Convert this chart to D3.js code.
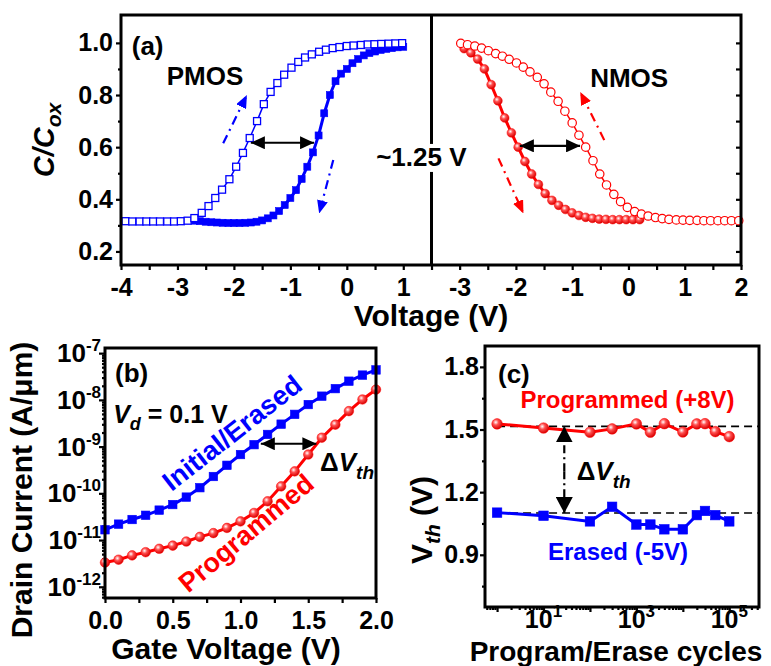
<!DOCTYPE html>
<html><head><meta charset="utf-8">
<script src="https://cdn.jsdelivr.net/npm/d3@7"></script>
<style>
body{margin:0;background:#fff}
svg text{font-family:Arial,"Liberation Sans",sans-serif;font-weight:bold;fill:#000}
</style></head><body><div id="chart"></div>
<script>
/* ---- (a) C-V hysteresis ---- */
const pmosOpenV = [-3.92,-3.80,-3.67,-3.55,-3.43,-3.31,-3.18,-3.06,-2.94,-2.82,-2.70,-2.57,-2.45,-2.33,-2.21,-2.08,-1.96,-1.84,-1.72,-1.59,-1.47,-1.35,-1.23,-1.11,-0.98,-0.86,-0.74,-0.62,-0.49,-0.37,-0.25,-0.13,0.00,0.12,0.25,0.37,0.49,0.61,0.74,0.86,0.98];
const pmosOpenC = [0.316,0.315,0.315,0.315,0.315,0.315,0.315,0.315,0.316,0.318,0.328,0.348,0.374,0.405,0.437,0.477,0.525,0.578,0.635,0.700,0.765,0.812,0.846,0.878,0.905,0.927,0.944,0.956,0.966,0.974,0.980,0.984,0.988,0.990,0.992,0.994,0.995,0.996,0.997,0.998,0.999];
const pmosFillV = [-2.7,-2.6,-2.5,-2.4,-2.3,-2.2,-2.1,-2.0,-1.9,-1.8,-1.7,-1.6,-1.5,-1.4,-1.3,-1.2,-1.1,-1.0,-0.9,-0.8,-0.7,-0.6,-0.5,-0.4,-0.3,-0.2,-0.1,0.0,0.1,0.2,0.3,0.4,0.5,0.6,0.7,0.8,0.9,1.0];
const pmosFillC = [0.318,0.316,0.314,0.312,0.311,0.310,0.309,0.309,0.309,0.310,0.311,0.314,0.319,0.327,0.338,0.355,0.378,0.405,0.435,0.478,0.525,0.580,0.645,0.730,0.800,0.853,0.882,0.900,0.922,0.938,0.952,0.961,0.967,0.973,0.977,0.980,0.983,0.985];
const nmosOpenV = [-2.98,-2.86,-2.73,-2.61,-2.49,-2.36,-2.24,-2.12,-1.99,-1.87,-1.75,-1.62,-1.50,-1.38,-1.25,-1.13,-1.00,-0.88,-0.76,-0.63,-0.51,-0.39,-0.26,-0.14,-0.02,0.11,0.23,0.35,0.48,0.60,0.72,0.85,0.97,1.09,1.22,1.34,1.46,1.59,1.71,1.83,1.96];
const nmosOpenC = [0.998,0.993,0.988,0.980,0.970,0.959,0.949,0.937,0.923,0.907,0.889,0.868,0.843,0.811,0.776,0.738,0.693,0.646,0.600,0.548,0.497,0.455,0.419,0.391,0.369,0.353,0.343,0.336,0.330,0.326,0.323,0.321,0.320,0.319,0.319,0.318,0.318,0.318,0.318,0.318,0.318];
const nmosFillV = [-2.92,-2.80,-2.68,-2.56,-2.44,-2.32,-2.20,-2.08,-1.96,-1.84,-1.72,-1.60,-1.48,-1.36,-1.24,-1.12,-1.00,-0.88,-0.76,-0.64,-0.52,-0.40,-0.28,-0.16,-0.04,0.08,0.20];
const nmosFillC = [0.978,0.962,0.938,0.900,0.840,0.778,0.712,0.655,0.600,0.545,0.497,0.457,0.422,0.396,0.377,0.361,0.348,0.338,0.331,0.327,0.324,0.323,0.322,0.322,0.322,0.322,0.322];

/* ---- (b) transfer curves ---- */
const gateV = [0.0,0.1,0.2,0.3,0.4,0.5,0.6,0.7,0.8,0.9,1.0,1.1,1.2,1.3,1.4,1.5,1.6,1.7,1.8,1.9,2.0];
const idErased = [1.66e-11,2.19e-11,2.75e-11,3.39e-11,4.37e-11,5.75e-11,8.3e-11,1.32e-10,2.29e-10,3.98e-10,6.76e-10,1.10e-9,1.82e-9,3.02e-9,4.9e-9,7.94e-9,1.20e-8,1.74e-8,2.51e-8,3.39e-8,4.37e-8];
const idProgrammed = [3.3e-12,3.8e-12,4.7e-12,5.5e-12,6.5e-12,7.6e-12,9.3e-12,1.17e-11,1.41e-11,1.82e-11,2.51e-11,3.8e-11,6.76e-11,1.41e-10,2.95e-10,6.76e-10,1.55e-9,2.95e-9,5.75e-9,1.02e-8,1.66e-8];

/* ---- (c) endurance ---- */
const cycles = [1,10,100,300,1000,2000,4000,10000,20000,30000,50000,100000];
const vthProgrammed = [1.527,1.507,1.487,1.503,1.527,1.487,1.528,1.488,1.527,1.528,1.490,1.466];
const vthErased = [1.102,1.087,1.060,1.130,1.045,1.045,1.022,1.022,1.090,1.110,1.090,1.060];
const refLines = [1.515, 1.10];

const BLUE = "#0000ff", RED = "#ff0000";
const W = 771, H = 666;
const svg = d3.select("#chart").append("svg").attr("width", W).attr("height", H);
const defs = svg.append("defs");

const grad = defs.append("radialGradient").attr("id", "ball").attr("cx", "38%").attr("cy", "35%").attr("r", "65%");
grad.append("stop").attr("offset", "0%").attr("stop-color", "#fff");
grad.append("stop").attr("offset", "40%").attr("stop-color", "#ff5050");
grad.append("stop").attr("offset", "100%").attr("stop-color", "#d80000");

function arrowMarker(id, color, len, wid) {
  defs.append("marker").attr("id", id).attr("markerUnits", "userSpaceOnUse")
    .attr("viewBox", `0 0 ${len} ${wid}`).attr("markerWidth", len).attr("markerHeight", wid)
    .attr("refX", len).attr("refY", wid / 2).attr("orient", "auto-start-reverse")
    .append("path").attr("d", `M0,0L${len},${wid / 2}L0,${wid}Z`).attr("fill", color);
}
arrowMarker("hBlack", "#000", 14, 13);
arrowMarker("hBlue", BLUE, 13, 11);
arrowMarker("hRed", RED, 13, 11);
arrowMarker("hBig", "#000", 16, 17);

/* helpers */
function richText(g, x, y, parts, opt = {}) {
  const t = g.append("text").attr("x", x).attr("y", y)
    .attr("text-anchor", opt.anchor || "start")
    .style("font-size", (opt.size || 24) + "px");
  if (opt.color) t.style("fill", opt.color);
  if (opt.rotate != null) t.attr("transform", `rotate(${opt.rotate},${x},${y})`);
  parts.forEach(p => {
    const s = t.append("tspan").text(p.t);
    if (p.italic) s.style("font-style", "italic");
    if (p.size) s.style("font-size", p.size + "px");
    if (p.dy) s.attr("dy", p.dy);
    if (opt.color) s.style("fill", opt.color);
  });
  return t;
}
function styleAxis(sel, size) {
  sel.select(".domain").remove();
  sel.selectAll("line").attr("stroke", "#000").attr("stroke-width", 2.2);
  sel.selectAll("text").style("font-size", (size || 25) + "px");
}
function squares(g, xs, ys, x, y, s, filled, color) {
  g.append("g").selectAll("rect").data(d3.zip(xs, ys)).join("rect")
    .attr("x", d => x(d[0]) - s / 2).attr("y", d => y(d[1]) - s / 2)
    .attr("width", s).attr("height", s)
    .attr("fill", filled ? color : "#fff").attr("stroke", color)
    .attr("stroke-width", filled ? 0.6 : 1.3);
}
function circles(g, xs, ys, x, y, r, filled, color) {
  g.append("g").selectAll("circle").data(d3.zip(xs, ys)).join("circle")
    .attr("cx", d => x(d[0])).attr("cy", d => y(d[1])).attr("r", r)
    .attr("fill", filled ? "url(#ball)" : "#fff").attr("stroke", color)
    .attr("stroke-width", filled ? 0.5 : 1.2);
}
function path(g, xs, ys, x, y, color, w) {
  g.append("path").datum(d3.zip(xs, ys))
    .attr("d", d3.line().x(d => x(d[0])).y(d => y(d[1])))
    .attr("fill", "none").attr("stroke", color).attr("stroke-width", w);
}
function arrow(g, x1, y1, x2, y2, color, marker, dash, both) {
  const l = g.append("line").attr("x1", x1).attr("y1", y1).attr("x2", x2).attr("y2", y2)
    .attr("stroke", color).attr("stroke-width", 2.2).attr("marker-end", `url(#${marker})`);
  if (both) l.attr("marker-start", `url(#${marker})`);
  if (dash) l.attr("stroke-dasharray", dash);
}

/* ══════════ (a) ══════════ */
const A = { l: 121, r: 741, t: 15, b: 265, mid: 431.5 };
const xa1 = d3.scaleLinear().domain([-4, 1.5]).range([A.l, A.mid]);
const xa2 = d3.scaleLinear().domain([-3.5, 2]).range([A.mid, A.r]);
const ya = d3.scaleLinear().domain([0.148, 1.107]).range([A.b, A.t]);
const gA = svg.append("g");

gA.append("g").attr("transform", `translate(${A.l},0)`)
  .call(d3.axisLeft(ya).tickValues([0.2, 0.4, 0.6, 0.8, 1.0]).tickSize(5).tickPadding(3).tickFormat(d3.format(".1f")))
  .call(styleAxis);
gA.append("g").attr("transform", `translate(${A.l},0)`)
  .call(d3.axisLeft(ya).tickValues([0.3, 0.5, 0.7, 0.9]).tickSize(3).tickFormat(""))
  .call(styleAxis);
gA.append("g").attr("transform", `translate(${A.r},0)`)
  .call(d3.axisRight(ya).tickValues([0.2, 0.3, 0.4, 0.5, 0.6, 0.7, 0.8, 0.9, 1.0]).tickSize(-5).tickFormat(""))
  .call(styleAxis);
gA.append("g").attr("transform", `translate(0,${A.b})`)
  .call(d3.axisBottom(xa1).tickValues(d3.range(-4, 1.51, 0.5)).tickSize(5).tickPadding(8)
    .tickFormat(d => Number.isInteger(d) ? String(d) : ""))
  .call(styleAxis);
gA.append("g").attr("transform", `translate(0,${A.b})`)
  .call(d3.axisBottom(xa2).tickValues(d3.range(-3, 2.01, 0.5)).tickSize(5).tickPadding(8)
    .tickFormat(d => Number.isInteger(d) ? String(d) : ""))
  .call(styleAxis);

// curves
path(gA, pmosFillV, pmosFillC, xa1, ya, BLUE, 3);
squares(gA, pmosFillV, pmosFillC, xa1, ya, 7, true, BLUE);
path(gA, pmosOpenV, pmosOpenC, xa1, ya, BLUE, 1.5);
squares(gA, pmosOpenV, pmosOpenC, xa1, ya, 7, false, BLUE);
path(gA, nmosFillV, nmosFillC, xa2, ya, RED, 3);
circles(gA, nmosFillV, nmosFillC, xa2, ya, 4.4, true, RED);
path(gA, nmosOpenV, nmosOpenC, xa2, ya, RED, 1.5);
circles(gA, nmosOpenV, nmosOpenC, xa2, ya, 4.2, false, RED);

// frame + divider
gA.append("rect").attr("x", A.l).attr("y", A.t).attr("width", A.r - A.l).attr("height", A.b - A.t)
  .attr("fill", "none").attr("stroke", "#000").attr("stroke-width", 3);
gA.append("line").attr("x1", xa1(1.5)).attr("x2", xa1(1.5)).attr("y1", A.t).attr("y2", A.b)
  .attr("stroke", "#000").attr("stroke-width", 3);

// annotations
arrow(gA, xa1(-1.70), ya(0.617), xa1(-0.58), ya(0.617), "#000", "hBlack", null, true);
arrow(gA, xa2(-1.93), ya(0.605), xa2(-0.86), ya(0.605), "#000", "hBlack", null, true);
arrow(gA, xa1(-2.19), ya(0.615), xa1(-1.77), ya(0.80), BLUE, "hBlue", "9,5,2,5");
arrow(gA, xa1(-0.24), ya(0.551), xa1(-0.49), ya(0.346), BLUE, "hBlue", "9,5,2,5");
arrow(gA, xa2(-0.43), ya(0.627), xa2(-0.857), ya(0.812), RED, "hRed", "9,5,2,5");
arrow(gA, xa2(-2.31), ya(0.557), xa2(-1.866), ya(0.346), RED, "hRed", "9,5,2,5");

richText(gA, xa1(-3.81), ya(0.955), [{ t: "(a)" }], { size: 26 });
richText(gA, xa1(-3.19), ya(0.838), [{ t: "PMOS" }], { size: 26 });
richText(gA, xa2(-0.68), ya(0.832), [{ t: "NMOS" }], { size: 26 });
const lbl125 = richText(gA, xa1(1.32), ya(0.528), [{ t: "~1.25 V" }], { size: 26, anchor: "middle" });
const bb = lbl125.node().getBBox();
gA.insert("rect", () => lbl125.node()).attr("x", bb.x - 2).attr("y", bb.y + 2).attr("width", bb.width + 4)
  .attr("height", bb.height - 2).attr("fill", "#fff");

richText(gA, (A.l + A.r) / 2, 326, [{ t: "Voltage (V)" }], { size: 30, anchor: "middle" });
richText(gA, 54, 140, [{ t: "C/C", italic: true }, { t: "ox", italic: true, size: 21, dy: 7 }],
  { size: 29, anchor: "middle", rotate: -90 });

/* ══════════ (b) ══════════ */
const B = { l: 105, r: 376, t: 348, b: 598 };
const xb = d3.scaleLinear().domain([0, 2]).range([B.l, B.r]);
const yb = d3.scaleLog().domain([Math.pow(10, -12.24), Math.pow(10, -6.89)]).range([B.b, B.t]);
const gB = svg.append("g");

const decadesB = [1e-12, 1e-11, 1e-10, 1e-9, 1e-8, 1e-7];
const minorB = [];
[-13, -12, -11, -10, -9, -8, -7].forEach(k => d3.range(2, 10).forEach(m => {
  const v = m * Math.pow(10, k);
  if (v > yb.domain()[0] && v < yb.domain()[1]) minorB.push(v);
}));
gB.append("g").attr("transform", `translate(${B.l},0)`)
  .call(d3.axisLeft(yb).tickValues(decadesB).tickSize(6).tickFormat("")).call(styleAxis);
gB.append("g").attr("transform", `translate(${B.l},0)`)
  .call(d3.axisLeft(yb).tickValues(minorB).tickSize(3).tickFormat("")).call(styleAxis);
decadesB.forEach(v => {
  const e = Math.round(Math.log10(v));
  richText(gB, B.l - 4, yb(v) + 9, [{ t: "10" }, { t: String(e), size: 17, dy: -11 }], { anchor: "end", size: 26 });
});
gB.append("g").attr("transform", `translate(0,${B.b})`)
  .call(d3.axisBottom(xb).tickValues(d3.range(0, 2.01, 0.25)).tickSize(5).tickPadding(8)
    .tickFormat(d => (d * 2) % 1 === 0 ? d3.format(".1f")(d) : ""))
  .call(styleAxis);

path(gB, gateV, idErased, xb, yb, BLUE, 3);
squares(gB, gateV, idErased, xb, yb, 8.5, true, BLUE);
path(gB, gateV, idProgrammed, xb, yb, RED, 3);
circles(gB, gateV, idProgrammed, xb, yb, 4.8, true, RED);

gB.append("rect").attr("x", B.l).attr("y", B.t).attr("width", B.r - B.l).attr("height", B.b - B.t)
  .attr("fill", "none").attr("stroke", "#000").attr("stroke-width", 3);

arrow(gB, xb(1.15), yb(1.15e-9), xb(1.56), yb(1.15e-9), "#000", "hBlack", null, true);
richText(gB, xb(0.074), yb(Math.pow(10, -7.62)), [{ t: "(b)" }], { size: 26 });
richText(gB, xb(0.06), yb(Math.pow(10, -8.495)),
  [{ t: "V", italic: true }, { t: "d", italic: true, size: 18, dy: 7 }, { t: " = 0.1 V", dy: -7 }], { size: 25 });
richText(gB, xb(1.587), yb(Math.pow(10, -9.52)),
  [{ t: "\u0394" }, { t: "V", italic: true }, { t: "th", italic: true, size: 19, dy: 8 }], { size: 26 });
richText(gB, xb(0.98), yb(Math.pow(10, -8.67)) + 9, [{ t: "Initial/Erased" }],
  { size: 27, anchor: "middle", color: BLUE, rotate: -38 });
richText(gB, xb(1.085), yb(Math.pow(10, -10.81)) + 9, [{ t: "Programmed" }],
  { size: 27, anchor: "middle", color: RED, rotate: -40 });

richText(gB, 226, 659, [{ t: "Gate Voltage (V)" }], { size: 30, anchor: "middle" });
richText(gB, 32, 490, [{ t: "Drain Current (A/\u03bcm)" }], { size: 30, anchor: "middle", rotate: -90 });

/* ══════════ (c) ══════════ */
const C = { l: 485, r: 759, t: 346, b: 607 };
const xc = d3.scaleLog().domain([Math.pow(10, -0.26), Math.pow(10, 5.64)]).range([C.l, C.r]);
const yc = d3.scaleLinear().domain([0.65, 1.9]).range([C.b, C.t]);
const gC = svg.append("g");

gC.append("g").attr("transform", `translate(${C.l},0)`)
  .call(d3.axisLeft(yc).tickValues([0.9, 1.2, 1.5, 1.8]).tickSize(5).tickPadding(1).tickFormat(d3.format(".1f")))
  .call(styleAxis);
gC.append("g").attr("transform", `translate(${C.l},0)`)
  .call(d3.axisLeft(yc).tickValues([0.75, 1.05, 1.35, 1.65]).tickSize(3).tickFormat("")).call(styleAxis);
const decadesC = [1, 10, 100, 1000, 10000, 100000];
const minorC = [];
[-1, 0, 1, 2, 3, 4, 5].forEach(k => d3.range(2, 10).forEach(m => {
  const v = m * Math.pow(10, k);
  if (v > xc.domain()[0] && v < xc.domain()[1]) minorC.push(v);
}));
gC.append("g").attr("transform", `translate(0,${C.b})`)
  .call(d3.axisBottom(xc).tickValues(decadesC).tickSize(5).tickFormat("")).call(styleAxis);
gC.append("g").attr("transform", `translate(0,${C.b})`)
  .call(d3.axisBottom(xc).tickValues(minorC).tickSize(3).tickFormat("")).call(styleAxis);
[10, 1000, 100000].forEach(v => {
  richText(gC, xc(v), 628, [{ t: "10" }, { t: String(Math.round(Math.log10(v))), size: 17, dy: -11 }],
    { anchor: "middle", size: 25 });
});

refLines.forEach(v => gC.append("line").attr("x1", xc(1)).attr("x2", C.r).attr("y1", yc(v)).attr("y2", yc(v))
  .attr("stroke", "#000").attr("stroke-width", 1.6).attr("stroke-dasharray", "8,5"));

path(gC, cycles, vthProgrammed, xc, yc, RED, 3);
circles(gC, cycles, vthProgrammed, xc, yc, 5.3, true, RED);
path(gC, cycles, vthErased, xc, yc, BLUE, 3);
squares(gC, cycles, vthErased, xc, yc, 9.5, true, BLUE);

gC.append("rect").attr("x", C.l).attr("y", C.t).attr("width", C.r - C.l).attr("height", C.b - C.t)
  .attr("fill", "none").attr("stroke", "#000").attr("stroke-width", 3);

arrow(gC, xc(28), yc(1.30), xc(28), yc(1.515), "#000", "hBig", "8,4,2,4");
arrow(gC, xc(28), yc(1.30), xc(28), yc(1.10), "#000", "hBig", "8,4,2,4");

richText(gC, xc(Math.pow(10, 0.02)), yc(1.723), [{ t: "(c)" }], { size: 26 });
richText(gC, xc(Math.pow(10, 2.808)), yc(1.603), [{ t: "Programmed (+8V)" }], { size: 24, anchor: "middle", color: RED });
richText(gC, xc(Math.pow(10, 2.604)), yc(0.875), [{ t: "Erased (-5V)" }], { size: 24, anchor: "middle", color: BLUE });
richText(gC, xc(Math.pow(10, 1.714)), yc(1.258),
  [{ t: "\u0394" }, { t: "V", italic: true }, { t: "th", italic: true, size: 19, dy: 8 }], { size: 26 });

richText(gC, 616, 661, [{ t: "Program/Erase cycles" }], { size: 28, anchor: "middle" });
richText(gC, 432, 520, [{ t: "V" }, { t: "th", italic: true, size: 21, dy: 8 }, { t: " (V)", dy: -8 }],
  { size: 30, anchor: "middle", rotate: -90 });
</script></body></html>
